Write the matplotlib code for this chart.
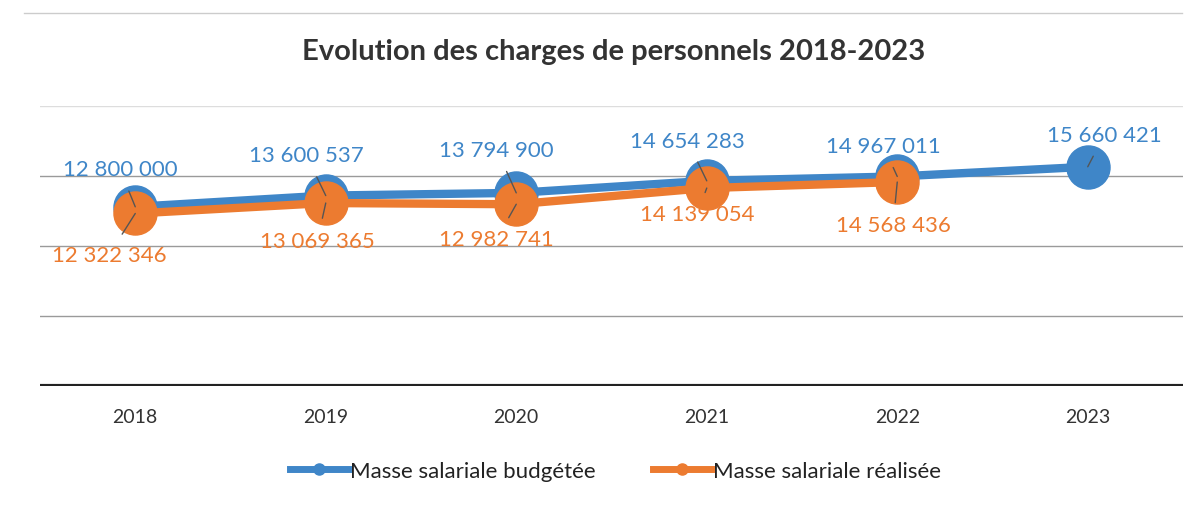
import matplotlib.pyplot as plt
from matplotlib.lines import Line2D

plt.rcParams['font.family'] = ['Lato', 'DejaVu Sans']

annees = ['2018', '2019', '2020', '2021', '2022', '2023']
budgetee = [12800000, 13600537, 13794900, 14654283, 14967011, 15660421]
realisee = [12322346, 13069365, 12982741, 14139054, 14568436]

bleu = '#3f86c8'
orange = '#ec7b30'

# décalages des étiquettes (en points)
off_b = [(-11, 27), (-14, 29), (-14, 31), (-14, 29), (-10, 22), (12, 23)]
off_o = [(-19, -30), (-6, -27), (-14, -25), (-7, -19), (-3, -31)]


def fmt(v):
    return f"{v:,}".replace(',', ' ')


fig = plt.figure(figsize=(12, 5.06), dpi=100)
ax = fig.add_axes([40/1200, 119/506, 1143/1200, 280/506])

x = list(range(len(annees)))
ax.plot(x, budgetee, color=bleu, lw=6, marker='o', ms=31, zorder=3)
ax.plot(x[:len(realisee)], realisee, color=orange, lw=6, marker='o', ms=31, zorder=4)

for i, v in enumerate(budgetee):
    ax.annotate(fmt(v), (i, v), xytext=off_b[i], textcoords='offset points',
                ha='center', va='center', fontsize=16, color=bleu, zorder=6,
                arrowprops=dict(arrowstyle='-', color='#555555', lw=1,
                                shrinkA=7, shrinkB=0))
for i, v in enumerate(realisee):
    ax.annotate(fmt(v), (i, v), xytext=off_o[i], textcoords='offset points',
                ha='center', va='center', fontsize=16, color=orange, zorder=6,
                arrowprops=dict(arrowstyle='-', color='#555555', lw=1,
                                shrinkA=7, shrinkB=0))

ax.set_xlim(-0.5, len(annees) - 0.5)
ax.set_ylim(0, 20000000)
for g in [5000000, 10000000, 15000000]:
    ax.axhline(g, color='#9a9a9a', lw=1, zorder=1)
ax.axhline(20000000, color='#dddddd', lw=1, zorder=1)
ax.axhline(0, color='#222222', lw=3, zorder=2)

for s in ax.spines.values():
    s.set_visible(False)
ax.set_yticks([])
ax.set_xticks(x)
ax.set_xticklabels(annees, fontsize=14, color='#333333')
ax.tick_params(axis='x', length=0, pad=16)

fig.text(0.511, 0.897, 'Evolution des charges de personnels 2018-2023',
         ha='center', va='center', fontsize=21, fontweight='bold', color='#333333')

handles = [Line2D([0], [0], color=bleu, lw=5, marker='o', ms=8),
           Line2D([0], [0], color=orange, lw=5, marker='o', ms=8)]
fig.legend(handles, ['Masse salariale budgétée', 'Masse salariale réalisée'],
           loc='center', bbox_to_anchor=(0.513, 0.067), ncol=2, frameon=False,
           fontsize=16, handlelength=2.6, handletextpad=0.1, columnspacing=2.6,
           labelcolor='#222222')

fig.add_artist(Line2D([0.02, 0.985], [0.972, 0.972], color='#cccccc', lw=1,
                      transform=fig.transFigure))

fig.savefig('out.png', dpi=100)
